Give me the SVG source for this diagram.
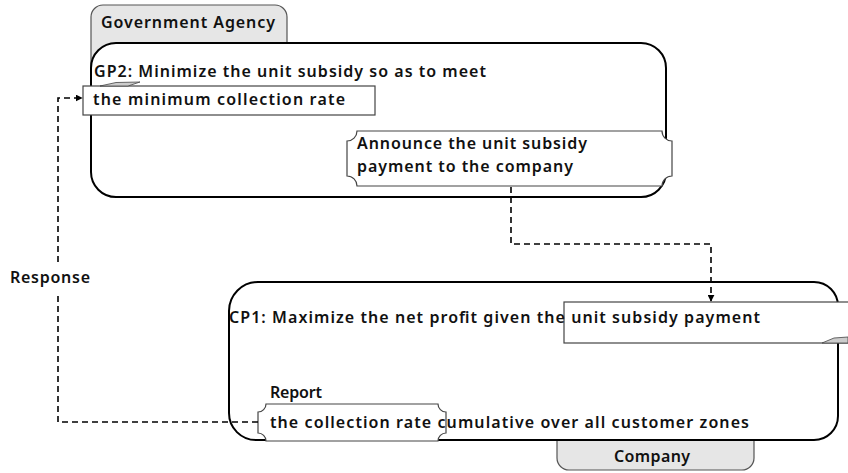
<svg xmlns="http://www.w3.org/2000/svg" width="848" height="473" viewBox="0 0 848 473">
<defs>
<style>
.t{font-family:"Noto Sans","DejaVu Sans","Liberation Sans",sans-serif;font-size:16px;font-weight:600;fill:#111}
.tab{fill:#e6e6e6;stroke:#555;stroke-width:1.2}
.main{fill:#fff;stroke:#000;stroke-width:2}
.box{fill:#fff;stroke:#444;stroke-width:1.2}
.fold{fill:#ccc;stroke:#444;stroke-width:0.8}
.conn{fill:none;stroke:#000;stroke-width:1.6;stroke-dasharray:6,4}
</style>
<marker id="arr" viewBox="0 0 10 10" refX="9" refY="5" markerWidth="7" markerHeight="7" markerUnits="userSpaceOnUse" orient="auto">
<path d="M0,0 L10,5 L0,10 Z" fill="#000"/>
</marker>
</defs>
<rect width="848" height="473" fill="#fff"/>

<g id="government-agency">
<path class="tab" d="M91,70 V17 A12,12 0 0 1 103,5 H275 A12,12 0 0 1 287,17 V70 Z"/>
<text class="t" x="101" y="28" textLength="174">Government Agency</text>
<path class="main" d="M116,43 H641 A25,25 0 0 1 666,68 V172 A25,25 0 0 1 641,197 H116 A25,25 0 0 1 91,172 V68 A25,25 0 0 1 116,43 Z"/>
</g>

<g id="gp2">
<text class="t" x="94" y="77" textLength="392">GP2: Minimize the unit subsidy so as to meet</text>
<rect class="box" x="83" y="86" width="292" height="29"/>
<polygon class="fold" points="100,86 116,82.5 140,82 128,86"/>
<text class="t" x="93" y="105" textLength="252">the minimum collection rate</text>
</g>

<g id="announce">
<path class="box" d="M357,131 H662 A10,10 0 0 0 672,141 V176 A10,10 0 0 0 662,186 H357 A10,10 0 0 0 347,176 V141 A10,10 0 0 0 357,131 Z"/>
<text class="t" x="357" y="149" textLength="230">Announce the unit subsidy</text>
<text class="t" x="357" y="172" textLength="216">payment to the company</text>
</g>

<g id="company">
<path class="tab" d="M557,420 V458 A12,12 0 0 0 569,470 H742 A12,12 0 0 0 754,458 V420 Z"/>
<text class="t" x="614" y="462" textLength="76">Company</text>
<path class="main" d="M258,282 H814 A24,24 0 0 1 838,306 V416 A24,24 0 0 1 814,440 H256 A27,27 0 0 1 229,413 V311 A29,29 0 0 1 258,282 Z"/>
</g>

<g id="cp1">
<rect class="box" x="564" y="302" width="300" height="41"/>
<polygon class="fold" points="822,343 834,338 848,337 848,343"/>
<text class="t" x="229" y="323" textLength="531">CP1: Maximize the net profit given the unit subsidy payment</text>
</g>

<g id="report">
<text class="t" x="270" y="398" textLength="52">Report</text>
<path class="box" d="M266,404 H438 A8,8 0 0 0 446,412 V433 A8,8 0 0 0 438,441 H266 A8,8 0 0 0 258,433 V412 A8,8 0 0 0 266,404 Z"/>
<text class="t" x="270" y="428" textLength="479">the collection rate cumulative over all customer zones</text>
</g>

<g id="connectors">
<path class="conn" d="M511,187 V244 H711 V301" marker-end="url(#arr)"/>
<path class="conn" d="M258,422 H58 V292 M58,262 V98 H82" marker-end="url(#arr)"/>
<text class="t" x="10" y="283" textLength="80">Response</text>
</g>
</svg>
